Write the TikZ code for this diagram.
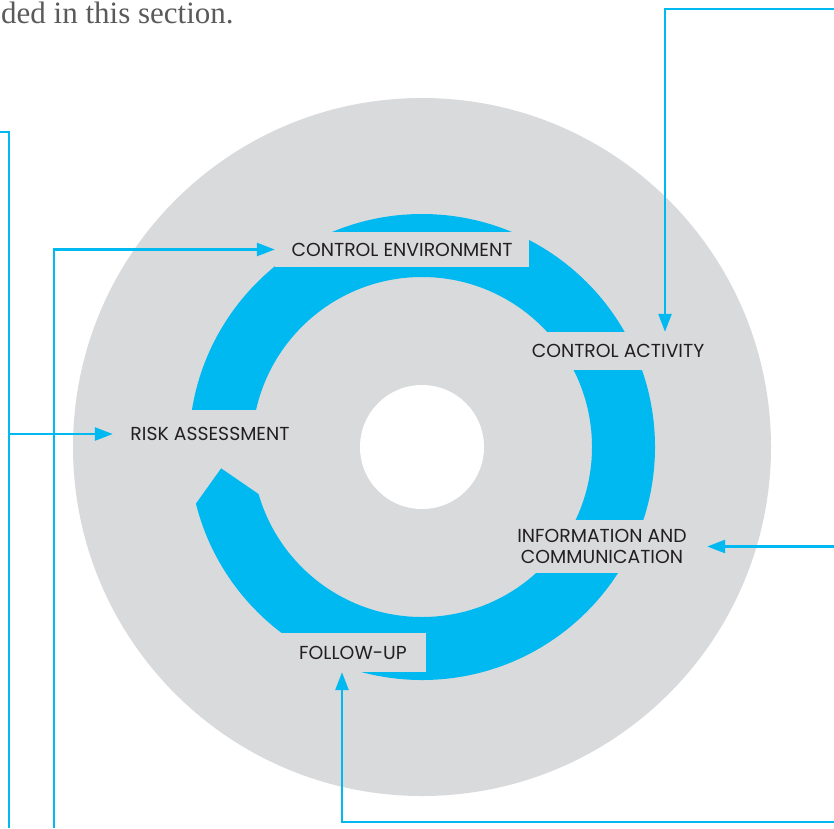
\documentclass[tikz,border=0pt]{standalone}
\usepackage{fontspec}
\setmainfont{Poppins}
\newfontfamily\bodyserif{Liberation Serif}
\usetikzlibrary{arrows.meta,calc}
\definecolor{discgray}{RGB}{217,218,220}
\definecolor{ringblue}{RGB}{0,185,240}
\definecolor{ink}{RGB}{35,31,32}
\definecolor{bodygray}{RGB}{90,90,90}
\begin{document}
\begin{tikzpicture}[x=1pt, y=-1pt,
	lbl/.style={fill=discgray, text=ink, inner sep=0pt, align=center,
		font=\fontsize{18.8}{20.5}\selectfont},
	link/.style={draw=ringblue, line width=2.6pt,
		-{Triangle[length=18pt,width=13pt]}},
	wire/.style={draw=ringblue, line width=2.6pt}]
	\useasboundingbox (0,0) rectangle (834,828);
	\coordinate (o) at (422,447);

	%testo sopra
	\node[anchor=base west, inner sep=0pt, text=bodygray,
		font=\bodyserif\fontsize{31}{36}\selectfont] (intro) at (1,23.5) {ded in this section.};

	%disco
	\fill[discgray] (o) circle (349pt);
	\fill[ringblue, even odd rule] (o) circle (233pt) (o) circle (170pt);
	\fill[white] (o) circle (62pt);

	%varco a sinistra con punta
	\fill[discgray] (150,410) -- (300,410) -- (300,490) -- ($(o)+(164:170)$)
		-- ($(o)+(174:202)$) -- ($(o)+(166:233)$) -- (150,520) -- cycle;

	%etichette
	\node[lbl, minimum width=254pt, minimum height=35pt] (ce) at (402,249.5) {CONTROL ENVIRONMENT};
	\node[lbl, minimum width=190pt, minimum height=38pt] (ca) at (618,351) {CONTROL ACTIVITY};
	\node[lbl, minimum width=210pt, minimum height=53pt] (ic) at (602,546.5)
		{INFORMATION AND\\COMMUNICATION};
	\node[lbl, minimum width=146pt, minimum height=39pt] (fu) at (353,652.5) {FOLLOW-UP};
	\node[lbl, minimum width=194pt, minimum height=35pt] (ra) at (210,434) {RISK ASSESSMENT};

	%collegamenti
	\coordinate (tr) at (834,9);
	\coordinate (tk) at (665,9);
	\draw[link] (tr) -- (tk) -- (tk |- ca.north);

	\coordinate (lt) at (0,132);
	\coordinate (lk) at (9,132);
	\coordinate (lb) at (9,828);
	\draw[wire] (lt) -- (lk) -- (lb);
	\draw[link] (lk |- ra.west) -- (ra.west);

	\coordinate (mb) at (54,828);
	\draw[link] (mb) |- (ce.west);

	\coordinate (rm) at (834,546.5);
	\draw[link] (rm) -- (ic.east);

	\coordinate (br) at (834,822);
	\coordinate (bk) at (342,822);
	\draw[link] (br) -- (bk) -- (bk |- fu.south);
\end{tikzpicture}
\end{document}
